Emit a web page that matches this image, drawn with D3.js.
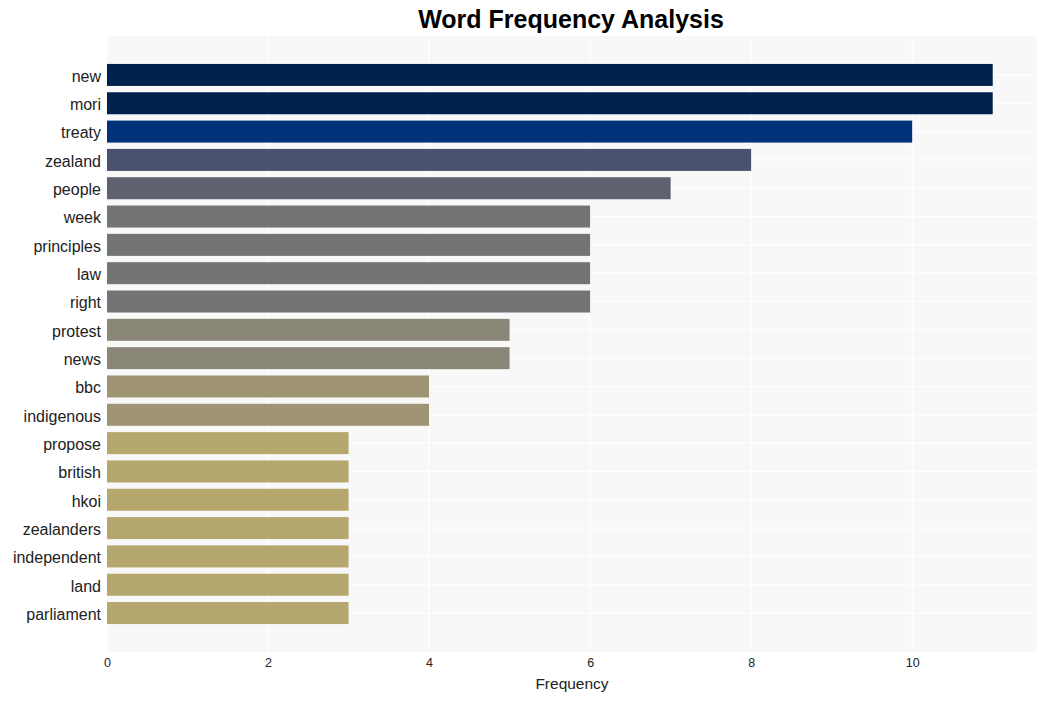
<!DOCTYPE html>
<html><head><meta charset="utf-8">
<script src="https://cdn.jsdelivr.net/npm/d3@7"></script>
<style>body{margin:0;background:#fff;} svg{display:block;font-family:"Liberation Sans",Arial,sans-serif;}</style>
</head><body>
<svg id="c" width="1046" height="701"></svg>
<script>
const words = ["new","mori","treaty","zealand","people","week","principles","law","right","protest","news","bbc","indigenous","propose","british","hkoi","zealanders","independent","land","parliament"];
const counts = [11,11,10,8,7,6,6,6,6,5,5,4,4,3,3,3,3,3,3,3];
const xTicks = [0,2,4,6,8,10];
const colorByCount = {11:"#00224e",10:"#01337a",8:"#4a526e",7:"#5f616f",6:"#747475",5:"#8a8779",4:"#9f9473",3:"#b5a76d"};

const svg = d3.select("#c");
const L=107, R=1037, T=36, B=652;
const x = d3.scaleLinear().domain([0, 11.55]).range([L, R]);
const y = d3.scalePoint().domain(words).range([T, B]).padding(1.375);
const bh = 22;

svg.append("rect").attr("x",L).attr("y",T).attr("width",R-L).attr("height",B-T).attr("fill","#f8f8f8");
svg.append("g").selectAll("line").data(xTicks).join("line")
  .attr("x1",d=>x(d)).attr("x2",d=>x(d)).attr("y1",T).attr("y2",B)
  .attr("stroke","#fff").attr("stroke-width",1.2);
svg.append("g").selectAll("line").data(words).join("line")
  .attr("x1",L).attr("x2",R).attr("y1",d=>y(d)).attr("y2",d=>y(d))
  .attr("stroke","#fff").attr("stroke-width",1.2);

svg.append("g").selectAll("rect").data(words).join("rect")
  .attr("x",x(0)).attr("y",d=>y(d)-bh/2).attr("height",bh)
  .attr("width",(d,i)=>x(counts[i])-x(0))
  .attr("fill",(d,i)=>colorByCount[counts[i]]);

const yAxis = svg.append("g").attr("transform",`translate(${L},0)`).call(d3.axisLeft(y).tickSize(0).tickPadding(6));
yAxis.select(".domain").remove();
yAxis.selectAll("text").attr("font-size",16).attr("dy","0.4em").attr("fill","#222").attr("font-family","'Liberation Sans',Arial,sans-serif");

const xAxis = svg.append("g").attr("transform",`translate(0,${B})`).call(d3.axisBottom(x).tickValues(xTicks).tickSize(0).tickPadding(6));
xAxis.select(".domain").remove();
xAxis.selectAll("text").attr("font-size",12.5).attr("fill","#222").attr("font-family","'Liberation Sans',Arial,sans-serif");

svg.append("text").attr("x",(L+R)/2).attr("y",689).attr("text-anchor","middle")
  .attr("font-size",15.5).attr("fill","#222").text("Frequency");
svg.append("text").attr("x",(L+R)/2-1).attr("y",28).attr("text-anchor","middle")
  .attr("font-size",25).attr("font-weight","bold").attr("fill","#000").text("Word Frequency Analysis");
</script>
</body></html>
